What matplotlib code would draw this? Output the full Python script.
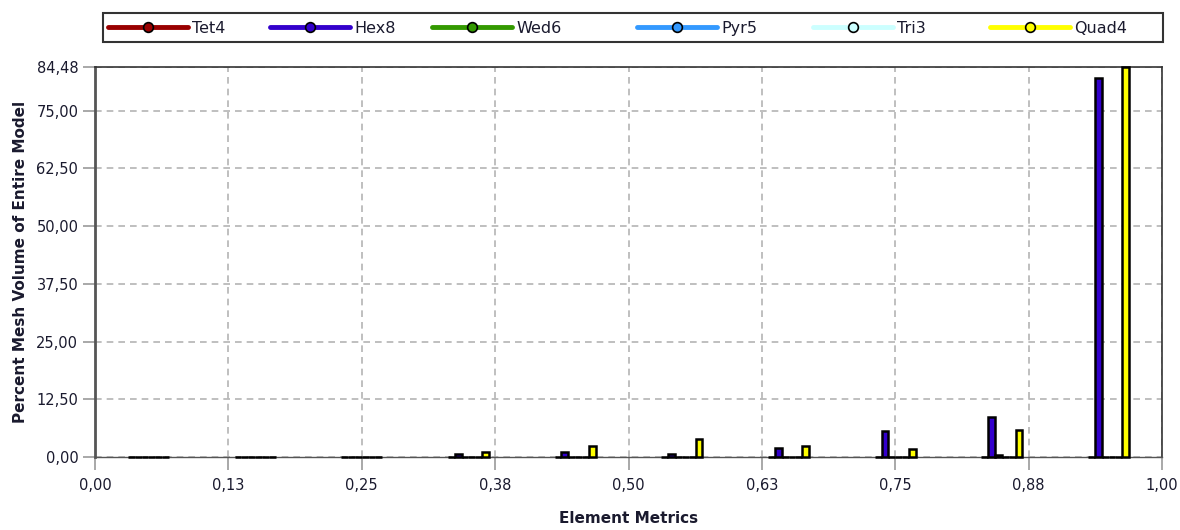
import matplotlib
matplotlib.use("Agg")
import matplotlib.pyplot as plt
from matplotlib.lines import Line2D
from matplotlib.patches import Rectangle
import numpy as np

# ---- data ----
bin_centers = [0.05, 0.15, 0.25, 0.35, 0.45, 0.55, 0.65, 0.75, 0.85, 0.95]
series_names = ["Tet4", "Hex8", "Wed6", "Pyr5", "Tri3", "Quad4"]
tet4 = [0, 0, 0, 0, 0, 0, 0, 0, 0, 0]
hex8 = [0, 0, 0, 0.6, 1.1, 0.7, 2.0, 5.6, 8.7, 82.2]
wed6 = [0, 0, 0, 0, 0, 0, 0, 0, 0.5, 0]
pyr5 = [0, 0, 0, 0, 0, 0, 0, 0, 0, 0]
tri3 = [0, 0, 0, 0, 0, 0, 0, 0, 0, 0]
quad4 = [0, 0, 0, 1.1, 2.4, 3.8, 2.4, 1.8, 5.9, 84.48]
series_colors = ["#990000", "#3300cc", "#339900", "#3399ff", "#ccffff", "#ffff00"]
x_ticks = [0.0, 0.125, 0.25, 0.375, 0.5, 0.625, 0.75, 0.875, 1.0]
x_tick_labels = ["0,00", "0,13", "0,25", "0,38", "0,50", "0,63", "0,75", "0,88", "1,00"]
y_ticks = [0.0, 12.5, 25.0, 37.5, 50.0, 62.5, 75.0, 84.48]
y_tick_labels = ["0,00", "12,50", "25,00", "37,50", "50,00", "62,50", "75,00", "84,48"]
y_max = 84.48

plt.rcParams["font.family"] = ["DejaVu Sans"]
W, H = 1180, 530
TXT = "#1a1a2e"

fig = plt.figure(figsize=(W / 100, H / 100), dpi=100)
ax = fig.add_axes([95 / W, 1 - 457 / H, (1162 - 95) / W, (457 - 67) / H])

all_series = [tet4, hex8, wed6, pyr5, tri3, quad4]
bw = 0.0064
n = len(all_series)
centers = np.array(bin_centers)
for i, (vals, col) in enumerate(zip(all_series, series_colors)):
    offs = (i - (n - 1) / 2) * bw
    bars = ax.bar(centers + offs, vals, width=bw, color=col, edgecolor="black",
                  linewidth=1.8, zorder=3)
    for b in bars:
        b.set_clip_on(False)

ax.set_xlim(0, 1)
ax.set_ylim(0, y_max)
ax.set_xticks(x_ticks)
ax.set_xticklabels(x_tick_labels)
ax.set_yticks(y_ticks)
ax.set_yticklabels(y_tick_labels)

ax.grid(True, linestyle=(0, (4, 3)), color="#b4b4b4", linewidth=1.2, zorder=0)
ax.tick_params(axis="both", labelsize=10.5, colors="#999999", labelcolor=TXT,
               length=9, width=1.2, direction="out")
ax.tick_params(axis="x", pad=6)
ax.tick_params(axis="y", pad=3)

for s in ["top", "right"]:
    ax.spines[s].set_color("#333333")
    ax.spines[s].set_linewidth(1.2)
ax.spines["left"].set_color("#555555")
ax.spines["left"].set_linewidth(2.0)
ax.spines["bottom"].set_color("#555555")
ax.spines["bottom"].set_linewidth(1.0)

ax.set_xlabel("Element Metrics", fontsize=11, fontweight="bold", labelpad=13,
              color=TXT)
ax.set_ylabel("Percent Mesh Volume of Entire Model", fontsize=11, fontweight="bold",
              labelpad=6, color=TXT)

# ---- legend drawn manually in figure pixel coordinates ----
def fx(px):
    return px / W

def fy(py):
    return 1 - py / H

fig.patches.append(Rectangle((fx(103), fy(42)), fx(1163) - fx(103), fy(13) - fy(42),
                             transform=fig.transFigure, fill=False,
                             edgecolor="#333333", linewidth=1.5))
starts = [108, 270, 432, 637, 813, 990]
hlen = 80
ly = fy(27)
for name, col, x0 in zip(series_names, series_colors, starts):
    fig.add_artist(Line2D([fx(x0), fx(x0 + hlen)], [ly, ly], color=col,
                          linewidth=3.5, solid_capstyle="round",
                          transform=fig.transFigure))
    fig.add_artist(Line2D([fx(x0 + hlen * 0.5)], [ly], marker="o", markersize=7,
                          markerfacecolor=col, markeredgecolor="black",
                          markeredgewidth=1.2, linestyle="none",
                          transform=fig.transFigure))
    fig.text(fx(x0 + hlen + 4), ly, name, fontsize=11.5, color=TXT,
             ha="left", va="center_baseline")

fig.savefig("out.png", dpi=100)
